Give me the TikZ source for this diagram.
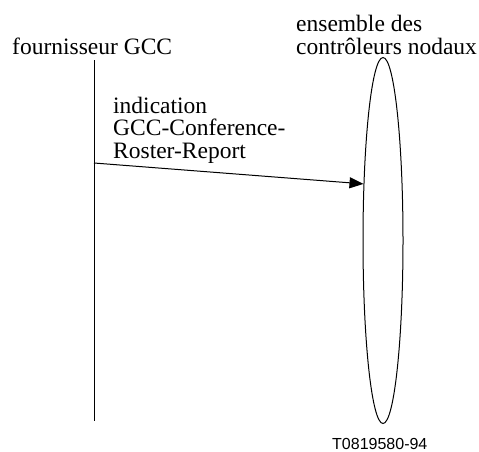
\documentclass[tikz,border=0pt]{standalone}
\usepackage{fontspec}
\setmainfont{Liberation Serif}
\newfontfamily\codefont{Liberation Sans}
\usetikzlibrary{arrows.meta,shapes.geometric}
\begin{document}
\begin{tikzpicture}[x=1pt,y=-1pt,
  lbl/.style={anchor=base west,inner sep=0pt,font=\fontsize{23.5}{22.5}\selectfont,align=left},
  line/.style={line width=1pt}]
\useasboundingbox (0,0) rectangle (479,451);
% participants (base anchor = baseline of the last line)
\node[lbl] (prov) at (12,54) {fournisseur GCC};
\node[lbl] (set) at (296,54) {ensemble des\\contrôleurs nodaux};
% life line of the provider and the node-controller set
\coordinate (ltop) at (94,60);
\coordinate (lbot) at (94,421);
\draw[line] (ltop) -- (lbot);
\node[draw,line,ellipse,minimum width=40pt,minimum height=366pt,inner sep=0pt] (ell) at (383,240.5) {};
% indication primitive
\coordinate (src) at (94,163);
\draw[line,-{Triangle[length=14pt,width=11pt]}] (src) -- (ell.109.6);
\node[lbl] (msg) at (113,158) {indication\\GCC-Conference-\\Roster-Report};
\node[anchor=base west,inner sep=0pt,font=\codefont\fontsize{16}{18}\selectfont] (ref) at (332,449) {T0819580-94};
\end{tikzpicture}
\end{document}
